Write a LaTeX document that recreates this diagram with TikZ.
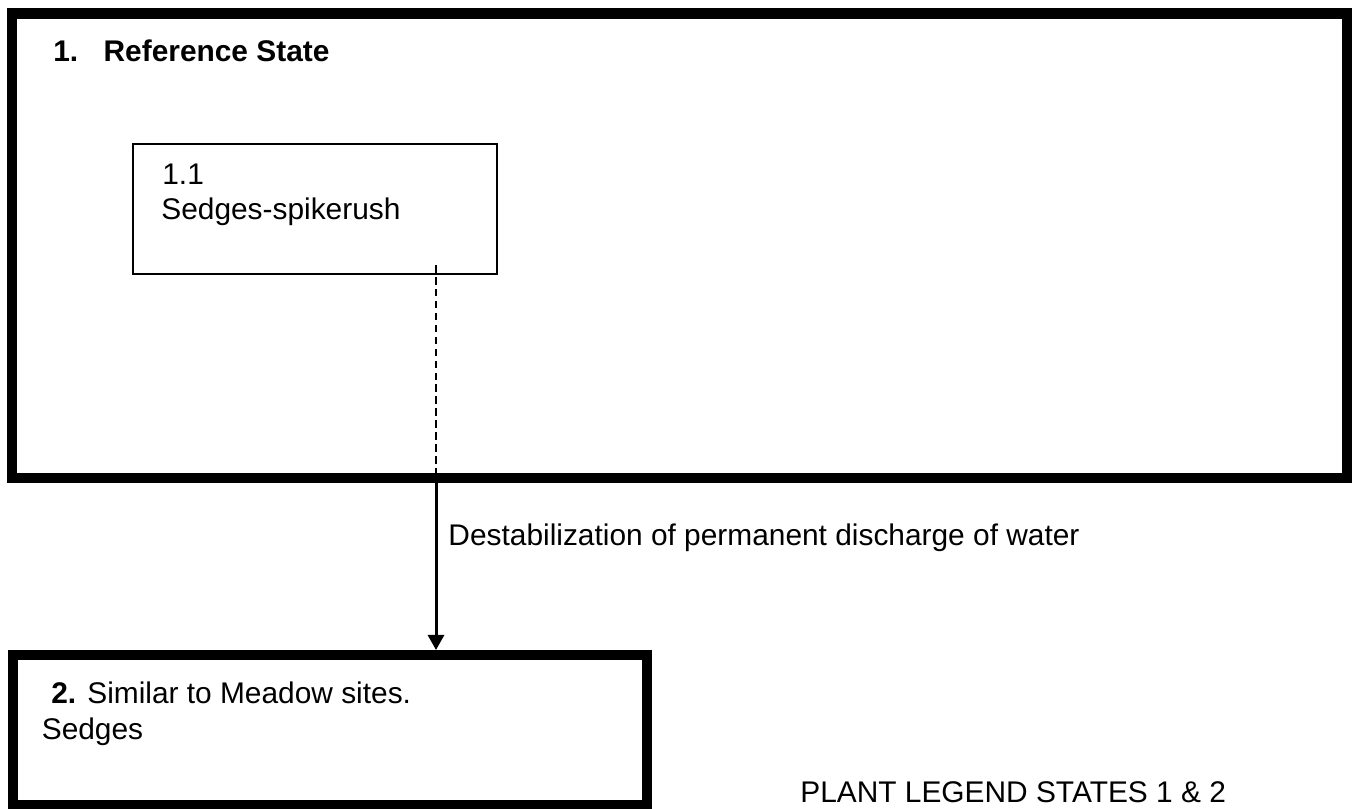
\documentclass[tikz,border=0pt]{standalone}
\usepackage{fontspec}
\setmainfont{Liberation Sans}
\usetikzlibrary{arrows.meta}

\begin{document}
\begin{tikzpicture}[>={Triangle[length=0.3cm,width=0.32cm]},
  statebox/.style={draw,line width=5.7pt,inner sep=0pt},
  phasebox/.style={draw,line width=1.1pt,inner sep=0pt},
  txt/.style={anchor=base west,inner sep=0pt,font=\fontsize{17pt}{20pt}\selectfont}]
\useasboundingbox[fill=white] (0,0) rectangle (27.08,16.16);

\node[statebox,minimum width=26.7cm,minimum height=9.29cm](s1) at (13.59,11.245) {};
\node[phasebox,minimum width=7.28cm,minimum height=2.6cm](s11) at (6.30,11.98) {};
\node[statebox,minimum width=12.68cm,minimum height=3cm](s2) at (6.60,1.56) {};

\node[txt](t1) at (1.06,14.92) {\textbf{1.\hspace{0.85em}Reference State}};
\node[txt](t11) at (3.24,12.46) {1.1};
\node[txt](t11b) at (3.22,11.76) {Sedges-spikerush};
\node[txt](t2) at (1.02,2.1) {\textbf{2.} Similar to Meadow sites.};
\node[txt](t2b) at (0.83,1.38) {Sedges};
\node[txt](legend) at (16.0,0.12) {PLANT LEGEND STATES 1 \& 2};

\coordinate (d) at (8.72,10.86);
\draw[line width=1.1pt,dash pattern=on 4.3pt off 2.5pt] (d) -- (d |- s1.south);
\draw[->,line width=1.7pt] (d |- s1.south) -- node[txt,pos=.373,xshift=0.22cm]{Destabilization of permanent discharge of water} (d |- s2.north);
\end{tikzpicture}
\end{document}
